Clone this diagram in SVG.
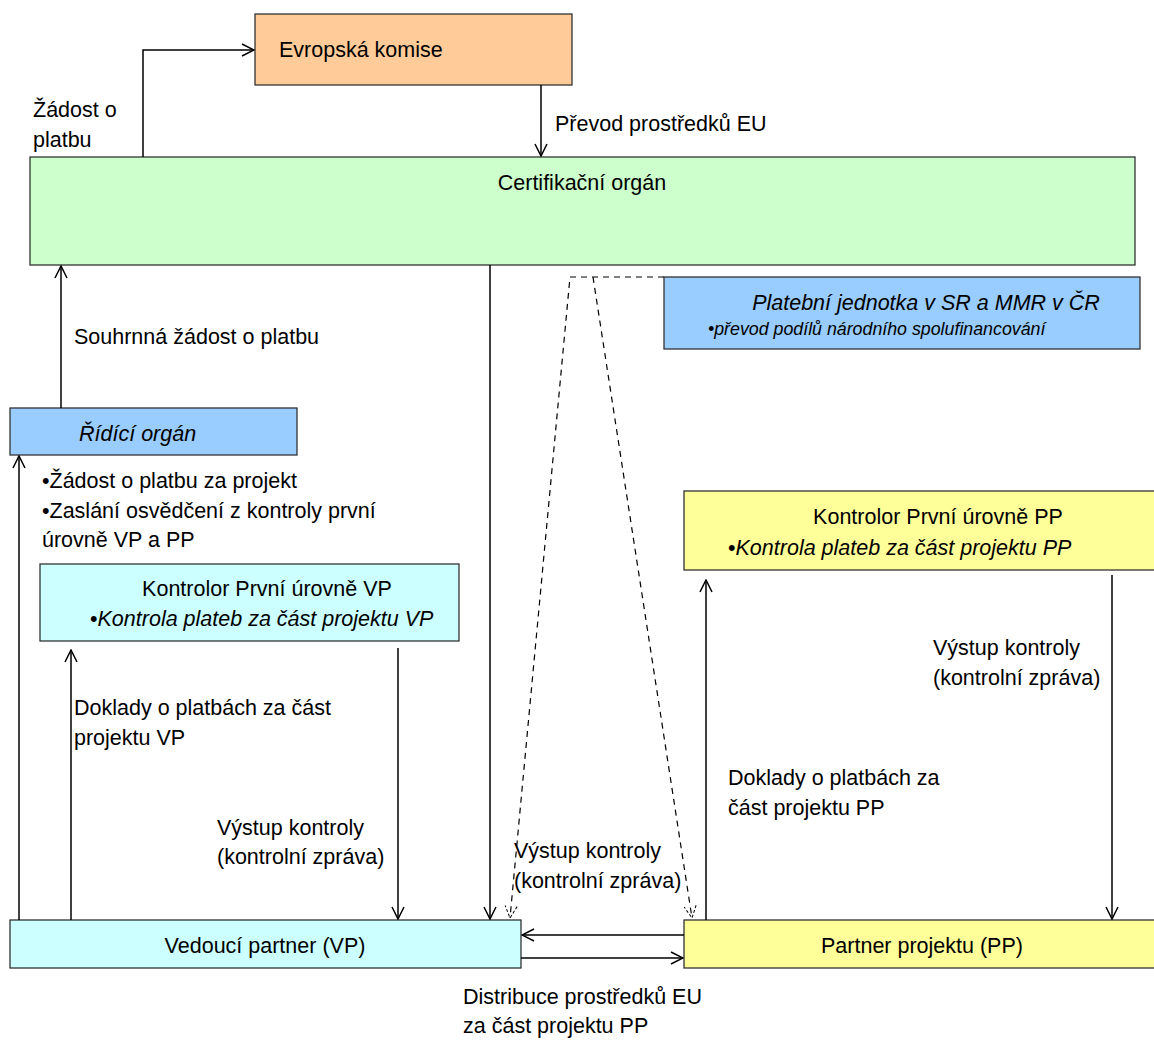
<svg xmlns="http://www.w3.org/2000/svg" width="1154" height="1040" viewBox="0 0 1154 1040">
<style>
.box{stroke:#333;stroke-width:1.3}
.t{font-family:"Liberation Sans",Arial,sans-serif;font-size:21.5px;fill:#000}
.i{font-style:italic}
.s{font-size:17.8px}
.c{stroke:#000;stroke-width:1.5;fill:none}
.d{stroke:#000;stroke-width:1.2;fill:none;stroke-dasharray:6,5}
</style>
<defs>
<marker id="a" markerWidth="14" markerHeight="14" refX="13" refY="7" orient="auto" markerUnits="userSpaceOnUse">
<path d="M1,1 L13,7 L1,13" fill="none" stroke="#000" stroke-width="1.5"/>
</marker>
<marker id="ad" markerWidth="14" markerHeight="14" refX="13" refY="7" orient="auto" markerUnits="userSpaceOnUse">
<path d="M1,1 L13,7 L1,13" fill="none" stroke="#000" stroke-width="1" stroke-dasharray="3,2"/>
</marker>
</defs>
<rect width="1154" height="1040" fill="#fff"/>
<g id="ek"><rect class="box" x="255" y="14" width="317" height="71" fill="#FFCC99"/><text class="t" x="279" y="57">Evropská komise</text></g>
<g id="co"><rect class="box" x="30" y="157" width="1105" height="108" fill="#CCFFCC"/><text class="t" x="582" y="190" text-anchor="middle">Certifikační orgán</text></g>
<g id="pj"><rect class="box" x="664" y="277" width="476" height="72" fill="#99CCFF"/><text class="t i" x="926" y="310" text-anchor="middle">Platební jednotka v SR a MMR v ČR</text><text class="t i s" x="708" y="335">•převod podílů národního spolufinancování</text></g>
<g id="ro"><rect class="box" x="10" y="408" width="287" height="47" fill="#99CCFF"/><text class="t i" x="79" y="441">Řídící orgán</text></g>
<g id="kvp"><rect class="box" x="40" y="564" width="419" height="77" fill="#CCFFFF"/><text class="t" x="267" y="596" text-anchor="middle">Kontrolor První úrovně VP</text><text class="t" x="90" y="626">•<tspan class="i">Kontrola plateb za část projektu VP</tspan></text></g>
<g id="kpp"><rect class="box" x="684" y="491" width="475" height="79" fill="#FFFF99"/><text class="t" x="938" y="524" text-anchor="middle">Kontrolor První úrovně PP</text><text class="t" x="728" y="555">•<tspan class="i">Kontrola plateb za část projektu PP</tspan></text></g>
<g id="vp"><rect class="box" x="10" y="920" width="511" height="48" fill="#CCFFFF"/><text class="t" x="265" y="953" text-anchor="middle">Vedoucí partner (VP)</text></g>
<g id="pp"><rect class="box" x="684" y="920" width="475" height="48" fill="#FFFF99"/><text class="t" x="922" y="953" text-anchor="middle">Partner projektu (PP)</text></g>
<g id="connectors">
<path class="c" d="M143,157 V50 H254" marker-end="url(#a)"/>
<path class="c" d="M541,85 V156" marker-end="url(#a)"/>
<path class="c" d="M61,408 V266" marker-end="url(#a)"/>
<path class="c" d="M19,920 V456" marker-end="url(#a)"/>
<path class="c" d="M71,920 V650" marker-end="url(#a)"/>
<path class="c" d="M398,648 V919" marker-end="url(#a)"/>
<path class="c" d="M490,265 V919" marker-end="url(#a)"/>
<path class="c" d="M706,920 V580" marker-end="url(#a)"/>
<path class="c" d="M1112,575 V919" marker-end="url(#a)"/>
<path class="c" d="M684,935 H522" marker-end="url(#a)"/>
<path class="c" d="M521,958 H683" marker-end="url(#a)"/>
<path class="d" d="M664,277 H570 L510,918" marker-end="url(#ad)"/>
<path class="d" d="M593,277 L692,918" marker-end="url(#ad)"/>
</g>
<g id="labels">
<text class="t" x="33" y="117">Žádost o</text><text class="t" x="33" y="147">platbu</text>
<text class="t" x="555" y="131">Převod prostředků EU</text>
<text class="t" x="74" y="344">Souhrnná žádost o platbu</text>
<text class="t" x="42" y="488">•Žádost o platbu za projekt</text>
<text class="t" x="42" y="518">•Zaslání osvědčení z kontroly první</text>
<text class="t" x="42" y="547">úrovně VP a PP</text>
<text class="t" x="74" y="715">Doklady o platbách za část</text><text class="t" x="74" y="745">projektu VP</text>
<text class="t" x="217" y="835">Výstup kontroly</text><text class="t" x="217" y="864">(kontrolní zpráva)</text>
<text class="t" x="514" y="858">Výstup kontroly</text><text class="t" x="514" y="888">(kontrolní zpráva)</text>
<text class="t" x="933" y="655">Výstup kontroly</text><text class="t" x="933" y="685">(kontrolní zpráva)</text>
<text class="t" x="728" y="785">Doklady o platbách za</text><text class="t" x="728" y="815">část projektu PP</text>
<text class="t" x="463" y="1004">Distribuce prostředků EU</text><text class="t" x="463" y="1033">za část projektu PP</text>
</g>
</svg>
